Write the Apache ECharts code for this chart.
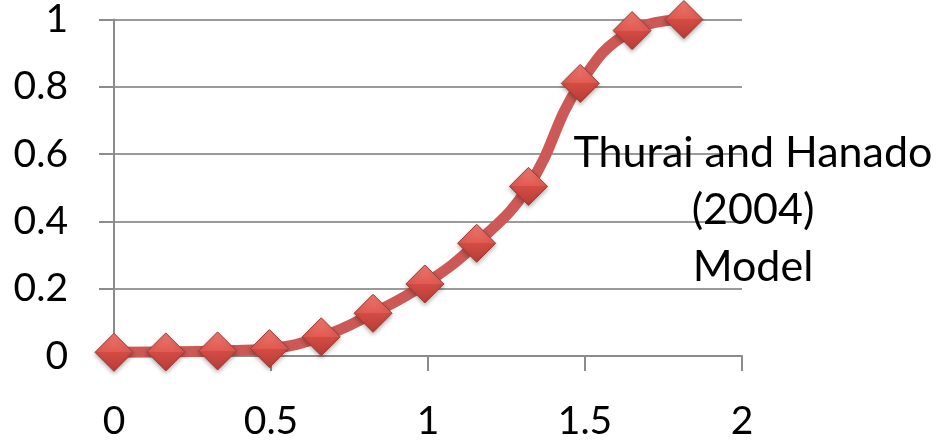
<!DOCTYPE html>
<html>
<head>
<meta charset="utf-8">
<style>
  html, body { margin: 0; padding: 0; background: #ffffff; }
  #chart { width: 942px; height: 441px; }
</style>
<script src="https://cdn.jsdelivr.net/npm/echarts@6/dist/echarts.min.js"></script>
</head>
<body>
<div id="chart"></div>
<script>
// Model curve samples
const xValues = [0, 0.165, 0.33, 0.495, 0.66, 0.825, 0.99, 1.155, 1.32, 1.485, 1.65, 1.815];
const yValues = [0.011, 0.012, 0.015, 0.022, 0.057, 0.127, 0.214, 0.335, 0.504, 0.81, 0.967, 1.0];
const seriesName = 'Thurai and Hanado\n(2004)\nModel';

const xTicks = [0, 0.5, 1, 1.5, 2];
const yTicks = [0, 0.2, 0.4, 0.6, 0.8, 1];

const points = xValues.map((x, i) => [x, yValues[i]]);

const chart = echarts.init(document.getElementById('chart'), null, { renderer: 'canvas' });

const labelFont = { fontFamily: 'Lato', fontSize: 39, color: '#000000' };
const gray = '#8c8c8c';

chart.setOption({
  animation: false,
  backgroundColor: '#ffffff',
  grid: { left: 114, right: 200, top: 19, bottom: 83.5, containLabel: false },
  xAxis: {
    type: 'value',
    min: xTicks[0],
    max: xTicks[xTicks.length - 1],
    interval: 0.5,
    axisLine: { show: true, lineStyle: { color: gray, width: 2 } },
    axisTick: { show: true, inside: false, length: 15, lineStyle: { color: gray, width: 2 } },
    splitLine: { show: false },
    axisLabel: Object.assign({ margin: 46 }, labelFont)
  },
  yAxis: {
    type: 'value',
    min: yTicks[0],
    max: yTicks[yTicks.length - 1],
    interval: 0.2,
    axisLine: { show: true, lineStyle: { color: gray, width: 2 } },
    axisTick: { show: true, inside: false, length: 15, lineStyle: { color: gray, width: 2 } },
    splitLine: { show: true, lineStyle: { color: '#9a9a9a', width: 2 } },
    axisLabel: Object.assign({ margin: 46, formatter: v => String(+v.toFixed(1)) }, labelFont)
  },
  graphic: [{
    type: 'text',
    x: 753,
    y: 125,
    style: {
      text: seriesName,
      align: 'center',
      verticalAlign: 'top',
      font: '43px Lato',
      lineHeight: 57,
      fill: '#000000'
    },
    z: 10
  }],
  series: [{
    name: seriesName,
    type: 'line',
    data: points,
    smooth: 0.45,
    symbol: 'diamond',
    symbolSize: 38,
    lineStyle: { color: '#cc5955', width: 11 },
    itemStyle: {
      color: new echarts.graphic.LinearGradient(0, 0, 0, 1, [
        { offset: 0, color: '#f07a70' },
        { offset: 0.5, color: '#e05a51' },
        { offset: 0.5, color: '#d34c44' },
        { offset: 1, color: '#b73d37' }
      ]),
      borderColor: '#9e3a35',
      borderWidth: 1,
      shadowColor: 'rgba(0,0,0,0.3)',
      shadowBlur: 4,
      shadowOffsetY: 2
    },
    emphasis: { disabled: true }
  }]
});
</script>
</body>
</html>
